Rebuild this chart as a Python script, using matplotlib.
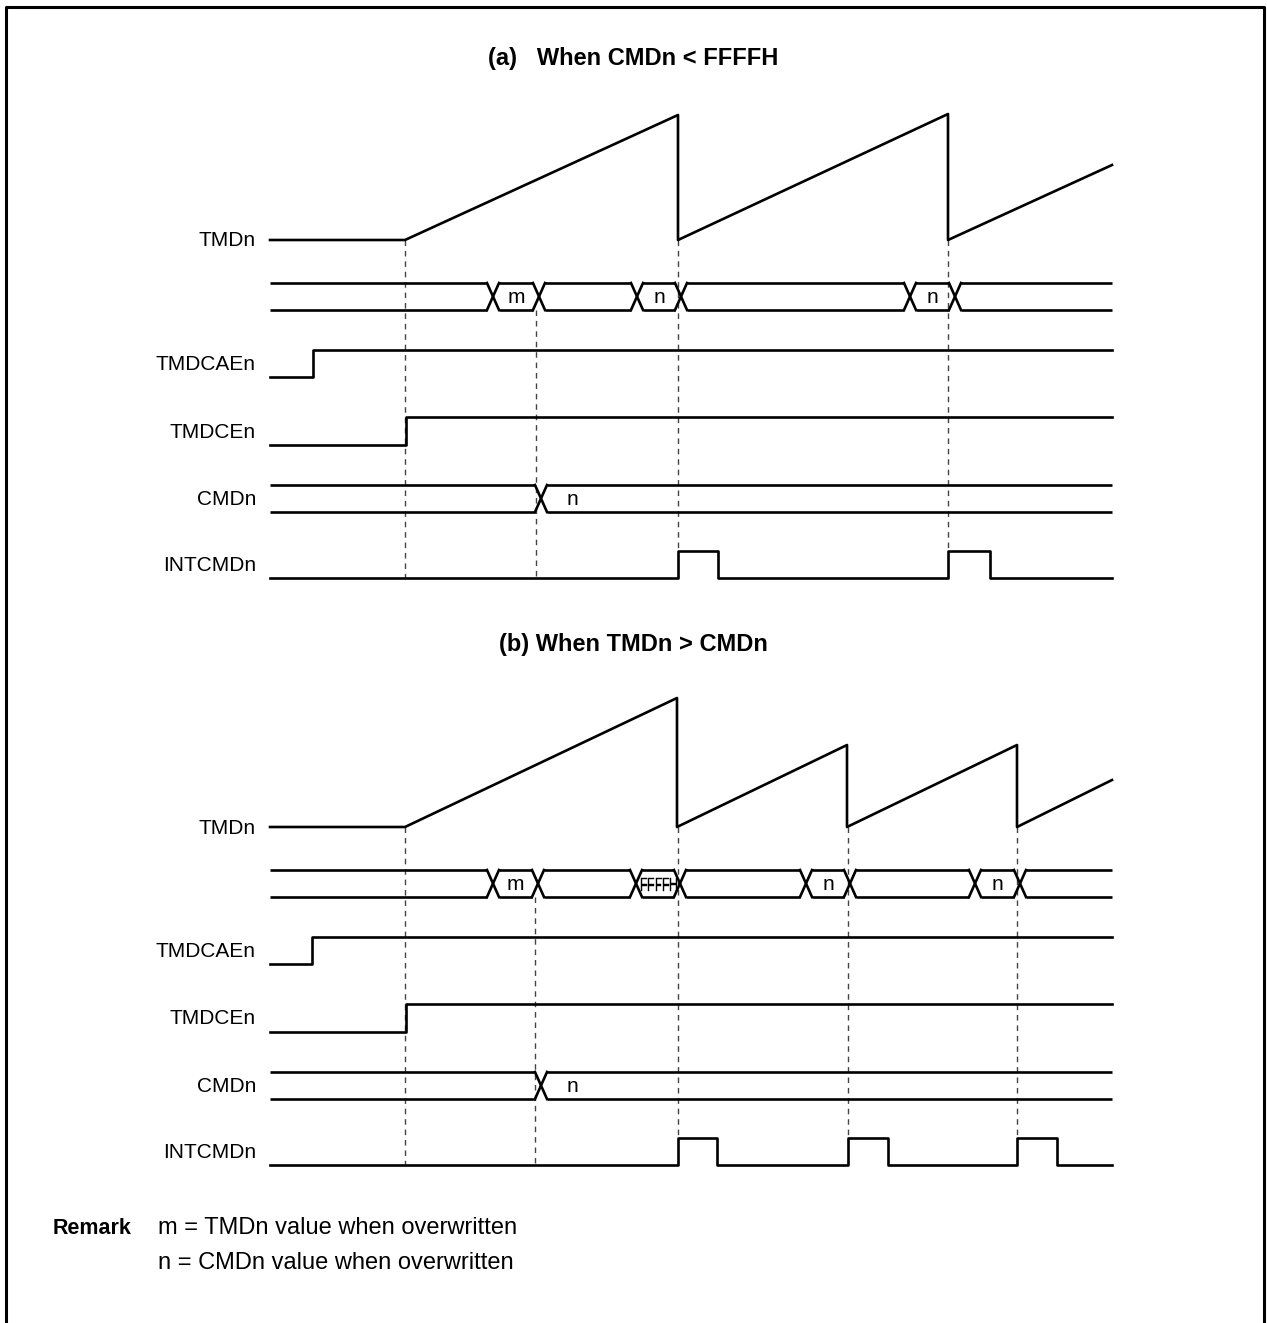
import matplotlib.pyplot as plt
import numpy as np
from matplotlib.textpath import TextPath
from matplotlib.patches import PathPatch
from matplotlib.font_manager import FontProperties
from matplotlib.transforms import Affine2D

plt.rcParams['font.family'] = ['Liberation Sans', 'DejaVu Sans']

# time axis runs from x_start to x_end
x_start, x_end = 270, 1112

# ---- panel (a): CMDn < FFFFH
title_a = "(a)   When CMDn < FFFFH"
tmd_a_t = [270, 405, 678, 678, 948, 948, 1112]
tmd_a_v = [0, 0, 125, 0, 126, 0, 75]
bus_a_edges = [493, 539, 637, 681, 910, 955]
bus_a_text = ["", "m", "", "n", "", "n", ""]
cae_a = 313
ce_a = 406
cmd_a = 541
cmd_dash_a = 536
int_a = [(678, 718), (948, 990)]

# ---- panel (b): TMDn > CMDn
title_b = "(b) When TMDn > CMDn"
tmd_b_t = [270, 405, 677, 677, 847, 847, 1017, 1017, 1112]
tmd_b_v = [0, 0, 129, 0, 82, 0, 82, 0, 47]
bus_b_edges = [493, 538, 636, 680, 806, 850, 975, 1020]
bus_b_text = ["", "m", "", "FFFFH", "", "n", "", "n", ""]
cae_b = 312
ce_b = 406
cmd_b = 541
cmd_dash_b = 535
int_b = [(678, 717), (848, 888), (1017, 1057)]

row_names = ["TMDn", "TMDCAEn", "TMDCEn", "CMDn", "INTCMDn"]
remark_lines = ["m = TMDn value when overwritten", "n = CMDn value when overwritten"]

W, H = 1267, 1323
fig = plt.figure(figsize=(W / 100, H / 100), dpi=100)
ax = fig.add_axes([0, 0, 1, 1])
ax.set_xlim(0, W)
ax.set_ylim(H, 0)
ax.axis("off")

lw = 1.9
hw = 6  # half width of a bus crossing
fs = 15


def squeezed(text, xc, yc, width, cap):
    # narrow text drawn as a path, squeezed to fit a short bus slot
    tp = TextPath((0, 0), text, size=1, prop=FontProperties(family="Liberation Sans"))
    ext = tp.get_extents()
    sx = width / ext.width
    sy = cap / ext.height
    tr = Affine2D().translate(-ext.x0 - ext.width / 2, -ext.y0 - ext.height / 2).scale(sx, -sy).translate(xc, yc)
    ax.add_patch(PathPatch(tr.transform_path(tp), facecolor="black", edgecolor="black", lw=0.3))


def bus(y_top, y_bot, edges, texts, text_x=None):
    bounds = [x_start] + edges + [x_end]
    for i in range(len(bounds) - 1):
        a, b = bounds[i], bounds[i + 1]
        l = a + hw if i > 0 else a
        r = b - hw if i < len(bounds) - 2 else b
        ax.plot([l, r], [y_top, y_top], color="black", lw=lw, solid_capstyle="butt")
        ax.plot([l, r], [y_bot, y_bot], color="black", lw=lw, solid_capstyle="butt")
        t = texts[i]
        if t:
            cx = (a + b) / 2 if text_x is None else text_x
            if len(t) > 2:
                squeezed(t, cx + 1, (y_top + y_bot) / 2 + 1, 36, 13)
            else:
                ax.text(cx, (y_top + y_bot) / 2 + 1, t, ha="center", va="center", fontsize=fs)
    for e in edges:
        ax.plot([e - hw, e + hw], [y_top, y_bot], color="black", lw=lw)
        ax.plot([e - hw, e + hw], [y_bot, y_top], color="black", lw=lw)


def panel(y0, title, tmd_t, tmd_v, edges, texts, cae, ce, cmd, cmd_dash, pulses):
    ax.text(633, y0, title, ha="center", va="center", fontsize=17, fontweight="bold")
    y_tmd = y0 + 182
    bus_t, bus_b = y0 + 225, y0 + 252
    cae_h, cae_l = y0 + 292, y0 + 319
    ce_h, ce_l = y0 + 359, y0 + 387
    cmd_t, cmd_b = y0 + 427, y0 + 454
    int_h, int_l = y0 + 493, y0 + 520

    # labels
    label_y = [y_tmd, (cae_h + cae_l) / 2, (ce_h + ce_l) / 2, (cmd_t + cmd_b) / 2, (int_h + int_l) / 2]
    for name, ly in zip(row_names, label_y):
        ax.text(256, ly + 1, name, ha="right", va="center", fontsize=fs)

    # dashed guides
    dash_kw = dict(color="#444444", lw=1.0, ls=(0, (4, 3.5)), zorder=1)
    ax.plot([tmd_t[1], tmd_t[1]], [y_tmd, int_l], **dash_kw)
    ax.plot([cmd_dash, cmd_dash], [bus_b, int_l], **dash_kw)
    for p0, p1 in pulses:
        ax.plot([p0, p0], [y_tmd, int_h], **dash_kw)

    # TMDn counter
    ax.plot(tmd_t, y_tmd - np.array(tmd_v), color="black", lw=lw, zorder=3)

    # bus row
    bus(bus_t, bus_b, edges, texts)

    # TMDCAEn
    ax.plot([x_start, cae, cae, x_end], [cae_l, cae_l, cae_h, cae_h], color="black", lw=lw, zorder=3)
    # TMDCEn
    ax.plot([x_start, ce, ce, x_end], [ce_l, ce_l, ce_h, ce_h], color="black", lw=lw, zorder=3)
    # CMDn
    bus(cmd_t, cmd_b, [cmd], ["", "n"], text_x=cmd + 31)
    # INTCMDn
    xs, ys = [x_start], [int_l]
    for p0, p1 in pulses:
        xs += [p0, p0, p1, p1]
        ys += [int_l, int_h, int_h, int_l]
    xs.append(x_end)
    ys.append(int_l)
    ax.plot(xs, ys, color="black", lw=lw, zorder=3)


panel(58, title_a, tmd_a_t, tmd_a_v, bus_a_edges, bus_a_text, cae_a, ce_a, cmd_a, cmd_dash_a, int_a)
panel(645, title_b, tmd_b_t, tmd_b_v, bus_b_edges, bus_b_text, cae_b, ce_b, cmd_b, cmd_dash_b, int_b)

# remark
ax.text(132, 1228, "Remark", ha="right", va="center", fontsize=15.5, fontweight="bold")
for i, line in enumerate(remark_lines):
    ax.text(158, 1228 + 35 * i, line, ha="left", va="center", fontsize=17)

# frame, open at the bottom
ax.plot([5.5, 5.5, 1263.5, 1263.5], [H + 10, 6.5, 6.5, H + 10], color="black", lw=2.2, clip_on=False)

fig.savefig("out.png", dpi=100)
